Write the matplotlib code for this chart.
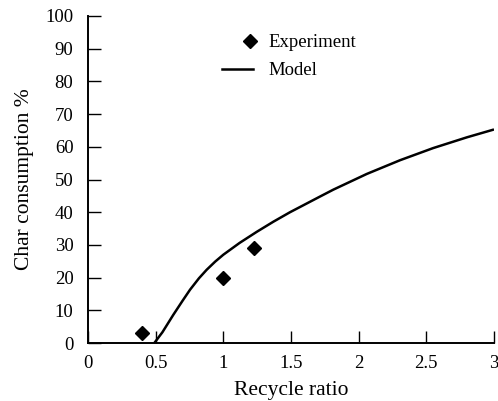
import matplotlib.pyplot as plt
from matplotlib.lines import Line2D
from matplotlib.legend_handler import HandlerLine2D

# experiment points
exp_x = [0.4, 1.0, 1.23]
exp_y = [3, 20, 29]

# model curve
model_x = [0.49, 0.55, 0.63, 0.7, 0.754, 0.82, 0.877, 0.94, 1.0, 1.12, 1.247,
           1.37, 1.493, 1.567, 1.715, 1.813, 2.06, 2.306, 2.55, 2.8, 3.0]
model_y = [0, 3.3, 8.6, 13, 16.3, 19.8, 22.4, 24.9, 27.0, 30.6, 34.0,
           37.1, 40.0, 41.6, 44.8, 46.9, 51.7, 55.9, 59.6, 62.9, 65.3]

xticks = [0, 0.5, 1, 1.5, 2, 2.5, 3]
xtick_labels = ["0", "0.5", "1", "1.5", "2", "2.5", "3"]
yticks = [0, 10, 20, 30, 40, 50, 60, 70, 80, 90, 100]


class ShiftedMarker(HandlerLine2D):
    # legend diamond sits toward the right end of the handle box
    def create_artists(self, legend, orig_handle, xdescent, ydescent,
                       width, height, fontsize, trans):
        arts = super().create_artists(legend, orig_handle, xdescent, ydescent,
                                      width, height, fontsize, trans)
        for a in arts:
            a.set_xdata([x + width * 0.4 for x in a.get_xdata()])
        return arts


plt.rcParams["font.family"] = ["Liberation Serif", "DejaVu Serif"]

fig = plt.figure(figsize=(4.98, 4.01), dpi=100)
ax = fig.add_axes([88 / 498, 58 / 401, 406 / 498, 327 / 401])

ax.plot(model_x, model_y, color="black", linewidth=1.8, solid_capstyle="butt",
        solid_joinstyle="round")
ax.plot(exp_x, exp_y, linestyle="none", marker="D", markersize=6.8,
        color="black")

ax.set_xlim(0, 3)
ax.set_ylim(0, 100)
ax.set_xticks(xticks)
ax.set_xticklabels(xtick_labels)
ax.set_yticks(yticks)
ax.tick_params(direction="in", length=9, width=1.0, labelsize=13.5)
ax.tick_params(axis="x", pad=9)
ax.tick_params(axis="y", pad=10.5)

ax.spines["top"].set_visible(False)
ax.spines["right"].set_visible(False)
ax.spines["left"].set_linewidth(1.4)
ax.spines["bottom"].set_linewidth(1.4)

ax.set_xlabel("Recycle ratio", fontsize=15.5, labelpad=6)
ax.set_ylabel("Char consumption %", fontsize=15.5, labelpad=8)

exp_handle = Line2D([], [], linestyle="none", marker="D", markersize=6.8,
                    color="black")
model_handle = Line2D([], [], color="black", linewidth=1.8)
ax.legend([exp_handle, model_handle], ["Experiment", "Model"],
          loc="upper left", bbox_to_anchor=(0.33, 0.945), frameon=False,
          fontsize=13.5, handlelength=1.65, handletextpad=0.85,
          labelspacing=0.6, borderaxespad=0, borderpad=0,
          handler_map={exp_handle: ShiftedMarker()})

fig.savefig("out.png", dpi=100)
